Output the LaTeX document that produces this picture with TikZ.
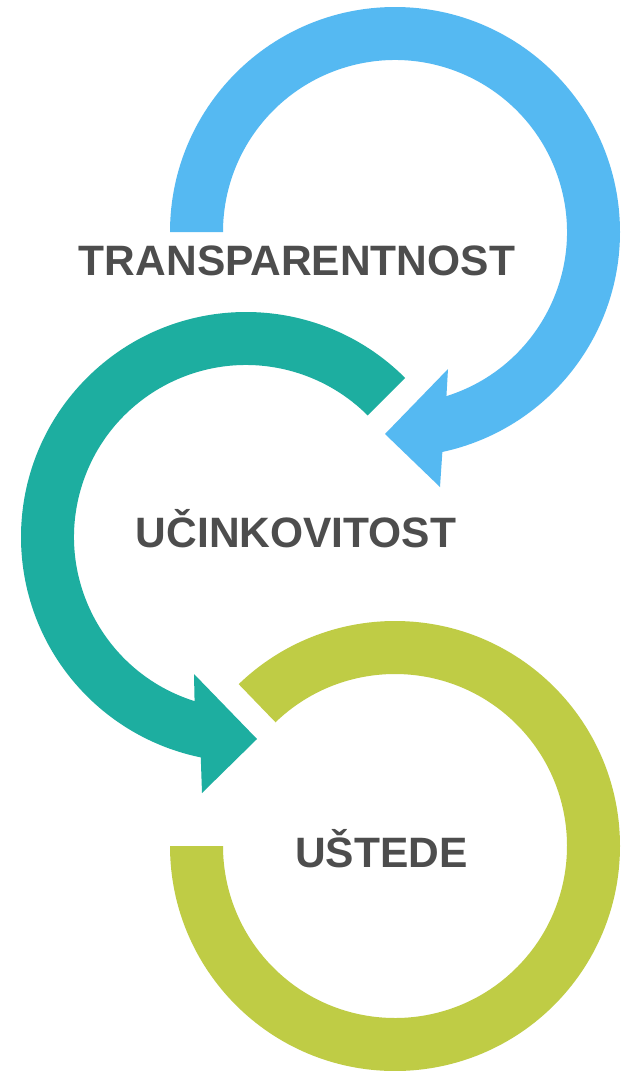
\documentclass[tikz,border=0pt]{standalone}
\usepackage{fontspec}
\setmainfont{Liberation Sans}
\usetikzlibrary{calc}
\definecolor{cblue}{HTML}{55B9F2}
\definecolor{cteal}{HTML}{1DAEA0}
\definecolor{cgreen}{HTML}{BFCC45}
\definecolor{ctext}{HTML}{4D4D4D}
\begin{document}
\begin{tikzpicture}[x=1pt,y=-1pt,
  lbl/.style={text=ctext, font=\fontsize{42.5}{42.5}\selectfont\bfseries, anchor=base, inner sep=0pt}]
\useasboundingbox (0,0) rectangle (624,1071);
\fill[white] (0,0) rectangle (624,1071);

% blue arrow
\coordinate (bc) at (395,232);
\coordinate (bb1) at (448,369);
\coordinate (bt) at (385,434);
\coordinate (bb2) at (440,487);
\fill[cblue] ($(bc)+(180:225)$) arc[start angle=180,end angle=437.85,radius=225]
  -- (bb2) -- (bt) -- (bb1) -- ($(bc)+(432.6:172)$)
  arc[start angle=432.6,end angle=180,radius=172] -- cycle;

% teal arrow
\coordinate (tc) at (246,537);
\coordinate (tb1) at (194,674);
\coordinate (tt) at (257,739);
\coordinate (tb2) at (202,793);
\fill[cteal] ($(tc)+(315:225)$) arc[start angle=315,end angle=101.6,radius=225]
  -- (tb2) -- (tt) -- (tb1) -- ($(tc)+(107.4:172)$)
  arc[start angle=107.4,end angle=315,radius=172] -- cycle;

% green arc
\coordinate (gc) at (395,846);
\fill[cgreen] ($(gc)+(180:225)$) arc[start angle=180,end angle=-134,radius=225]
  -- ($(gc)+(-134:172)$) arc[start angle=-134,end angle=180,radius=172] -- cycle;

\node[lbl] (t1) at (297,275) {TRANSPARENTNOST};
\node[lbl] (t2) at (296,547) {UČINKOVITOST};
\node[lbl] (t3) at (381.5,867) {UŠTEDE};
\end{tikzpicture}
\end{document}
